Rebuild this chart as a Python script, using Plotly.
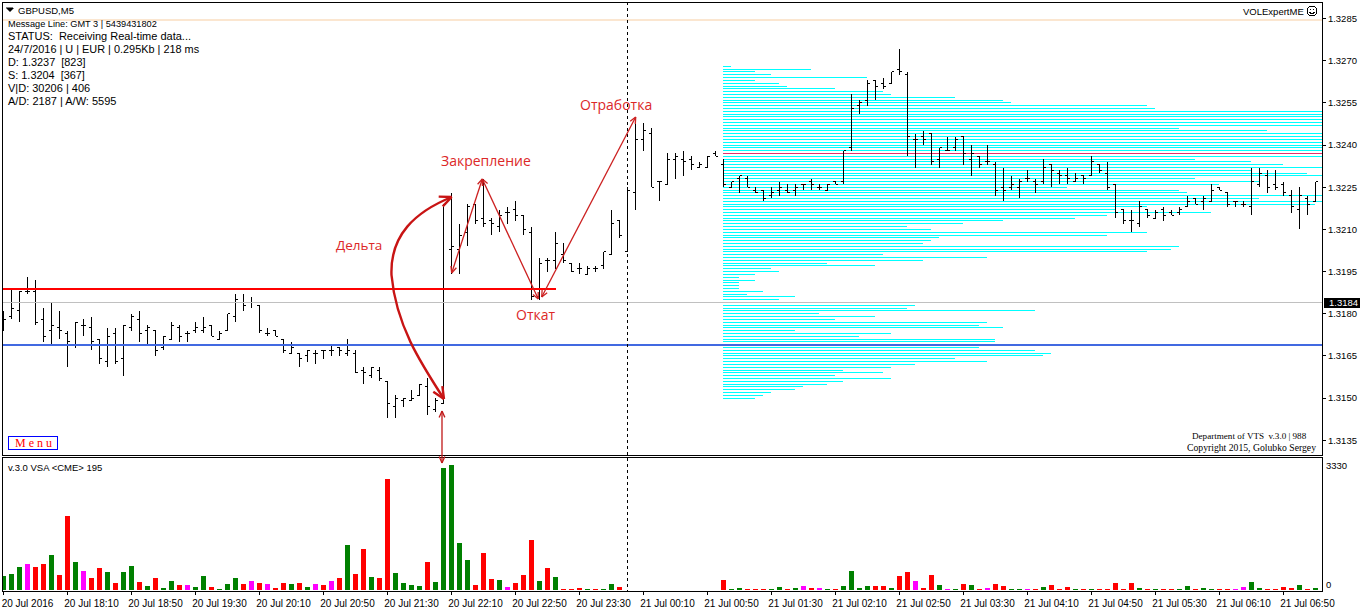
import math
import plotly.graph_objects as go

W, H = 1362, 612

# ---------- data ----------
opens = [3179,3179,3181,3188,3188,3178,3174,3175,3173,3169,
3176,3175,3171,3163,3173,3164,3175,3178,3174,3174,
3168,3171,3175,3173,3174,3174,3176,3171,3174,3179,
3184,3184,3183,3173,3174,3171,3166,3166,3165,3166,
3167,3167,3168,3166,3166,3160,3158,3160,3156,3147,
3149,3149,3151,3154,3146,3148,3203,3203,3209,3219,
3214,3213,3211,3216,3217,3215,3209,3186,3199,3199,
3201,3198,3196,3194,3196,3197,3201,3213,3202,3223,
3242,3244,3227,3226,3235,3235,3235,3232,3232,3237,
3233,3225,3228,3228,3224,3224,3222,3224,3224,3224,
3226,3227,3225,3224,3227,3227,3239,3254,3256,3263,
3262,3262,3267,3265,3242,3243,3244,3235,3238,3239,
3243,3235,3236,3234,3233,3225,3225,3225,3228,3227,
3227,3233,3230,3229,3227,3229,3229,3233,3230,3226,
3217,3213,3212,3217,3214,3217,3216,3216,3218,3221,
3220,3220,3225,3223,3220,3219,3218,3226,3229,3226,
3226,3222,3217,3221,3220]
highs = [3181,3189,3188,3193,3192,3182,3184,3181,3174,3177,
3178,3179,3171,3175,3175,3176,3180,3181,3176,3174,
3172,3177,3176,3174,3177,3179,3176,3174,3180,3187,
3187,3186,3183,3175,3174,3171,3170,3166,3167,3167,
3167,3169,3168,3171,3167,3161,3161,3161,3156,3151,
3150,3153,3155,3157,3150,3219,3223,3212,3219,3219,
3228,3214,3217,3218,3220,3215,3211,3200,3200,3209,
3205,3198,3198,3197,3197,3202,3217,3213,3225,3250,
3248,3246,3227,3237,3237,3238,3236,3234,3236,3238,
3235,3227,3229,3229,3225,3224,3225,3227,3226,3226,
3226,3228,3226,3226,3227,3238,3258,3256,3263,3263,
3264,3266,3274,3266,3244,3245,3244,3239,3243,3243,
3243,3240,3236,3240,3234,3232,3229,3228,3231,3228,
3235,3233,3231,3232,3230,3229,3236,3233,3234,3226,
3217,3217,3220,3217,3217,3218,3217,3218,3222,3221,
3222,3226,3225,3223,3220,3220,3232,3232,3231,3231,
3227,3224,3225,3222,3227]
lows = [3174,3178,3177,3187,3176,3170,3169,3171,3161,3168,
3172,3167,3162,3161,3162,3158,3174,3170,3169,3165,
3167,3171,3170,3170,3173,3173,3172,3171,3174,3177,
3181,3182,3173,3172,3172,3166,3166,3161,3163,3162,
3164,3165,3165,3165,3159,3155,3157,3156,3143,3143,
3147,3149,3151,3144,3145,3148,3194,3194,3204,3212,
3211,3208,3209,3212,3213,3208,3185,3185,3195,3196,
3198,3195,3194,3194,3195,3196,3201,3207,3202,3217,
3238,3225,3220,3226,3228,3229,3231,3232,3232,3236,
3225,3225,3223,3225,3223,3220,3221,3222,3223,3222,
3224,3224,3224,3224,3226,3226,3238,3251,3254,3256,
3260,3262,3265,3236,3232,3240,3233,3232,3238,3238,
3233,3229,3232,3233,3222,3220,3224,3221,3227,3223,
3226,3225,3226,3226,3227,3226,3229,3230,3224,3214,
3212,3209,3211,3214,3214,3213,3215,3215,3218,3219,
3217,3220,3224,3218,3218,3218,3215,3225,3223,3224,
3222,3216,3210,3215,3220]
closes = [3178,3182,3188,3188,3177,3172,3176,3174,3170,3177,
3176,3170,3164,3172,3163,3176,3179,3173,3175,3167,
3172,3176,3172,3173,3175,3175,3172,3173,3180,3185,
3183,3184,3174,3173,3172,3167,3168,3164,3167,3166,
3167,3167,3167,3167,3159,3159,3161,3157,3148,3150,
3150,3150,3155,3147,3149,3219,3204,3208,3218,3213,
3212,3212,3215,3216,3215,3210,3186,3198,3199,3205,
3199,3195,3196,3196,3196,3202,3212,3208,3224,3242,
3245,3225,3227,3235,3236,3234,3233,3233,3236,3236,
3226,3227,3229,3225,3223,3221,3223,3225,3223,3225,
3226,3226,3225,3226,3226,3238,3253,3255,3262,3261,
3261,3266,3266,3243,3242,3242,3234,3239,3238,3242,
3237,3237,3233,3234,3224,3224,3226,3227,3228,3226,
3232,3231,3229,3228,3228,3228,3234,3231,3225,3216,
3213,3213,3218,3215,3216,3215,3215,3217,3220,3219,
3221,3224,3224,3219,3220,3219,3227,3230,3225,3225,
3223,3218,3222,3219,3227]

volumes = [373,426,613,693,613,693,932,400,1971,746,
506,320,586,480,186,480,639,213,107,320,
53,240,133,133,80,373,80,27,160,320,
160,240,186,160,53,186,160,186,80,160,
133,240,320,1199,426,1092,346,320,2957,453,
186,133,107,746,213,3250,3330,1252,799,133,
986,293,266,80,186,400,1332,240,586,346,
27,27,53,27,27,27,160,80,0,0,
0,0,0,0,0,0,0,0,0,0,
266,27,53,27,27,27,27,80,27,53,
107,53,53,27,27,107,506,53,107,107,
107,53,373,480,240,53,400,133,27,27,
160,133,27,53,160,107,27,27,27,27,
80,133,27,80,27,27,27,27,27,186,
27,186,53,27,27,27,27,27,107,27,
53,27,27,27,27,80,213,53,27,27,
80,53,133,27,53]
volume_kinds = ("gggmrrgrrg" "mrrgrggrgr" "ggrmggrggg" "rmrmrrgrgm" "rmrgrrgrrg"
                "gggrgggggr" "rrgmrrrgrg" "rrrgrggrgg" "gggggggggg" "rggrrrggrg"
                "mrmgrggggr" "rgrrmrrgmg" "rgrmrrggmr" "grrrgrgrrr" "rrgrgrrggr"
                "ggrrmmggrr" "rrgrg")

profile_levels = list(range(3268, 3149, -1))
profile_lengths = [1,11,4,6,18,4,7,8,14,20,21,29,35,36,53,54,
82,82,82,82,82,82,57,68,
82,82,82,82,82,82,82,82,82,
59,66,70,82,66,73,82,59,67,62,43,57,58,82,67,82,74,53,49,61,48,44,
35,30,23,26,53,48,27,26,25,57,56,53,20,33,25,13,19,6,7,4,2,4,2,2,2,5,3,9,7,4,
24,23,39,12,19,14,33,32,35,9,21,17,34,34,34,32,39,41,40,29,33,24,21,15,20,14,21,15,13,10,9,6,5,4]
poc_level = 3237

tick_labels = ["20 Jul 2016","20 Jul 18:10","20 Jul 18:50","20 Jul 19:30","20 Jul 20:10","20 Jul 20:50",
 "20 Jul 21:30","20 Jul 22:10","20 Jul 22:50","20 Jul 23:30","21 Jul 00:10","21 Jul 00:50","21 Jul 01:30",
 "21 Jul 02:10","21 Jul 02:50","21 Jul 03:30","21 Jul 04:10","21 Jul 04:50","21 Jul 05:30","21 Jul 06:10","21 Jul 06:50"]
price_ticks = [1.3135,1.3150,1.3165,1.3180,1.3195,1.3210,1.3225,1.3240,1.3255,1.3270,1.3285]
info_lines = ["Message Line: GMT 3 | 5439431802","STATUS:  Receiving Real-time data...",
 "24/7/2016 | U | EUR | 0.295Kb | 218 ms","D: 1.3237  [823]","S: 1.3204  [367]",
 "V|D: 30206 | 406","A/D: 2187 | A/W: 5595"]
last_price, red_level, blue_level = 1.3184, 1.31888, 1.31689

# ---------- scales ----------
to_price = lambda pts: [1 + p / 10000 for p in pts]
idx = list(range(len(opens)))
STEP = 8.0
X0 = 3.5
L, R = 3.0, 1322.0
x_range = [(L - X0) / STEP, (R - X0) / STEP]
P_T, P_B = 3.0, 455.0
V_T, V_B = 458.0, 591.0
PX_PER_UNIT = 28119.0
p_top = 1.3135 + (440.3 - P_T) / PX_PER_UNIT
p_bot = 1.3135 + (440.3 - P_B) / PX_PER_UNIT
V_SCALE = 3330 / 125.0
v_bot = -(V_B - 590) * V_SCALE
v_top = (590 - V_T) * V_SCALE
kind_color = {"g": "#008000", "r": "#ff0000", "m": "#ff00ff"}
PROFILE_X = (723 - X0) / STEP

fig = go.Figure()
fig.add_bar(x=profile_lengths, y=to_price(profile_levels), base=PROFILE_X, orientation="h",
            width=1.0 / PX_PER_UNIT,
            marker=dict(color=["#e0306e" if l == poc_level else "#00ffff" for l in profile_levels], line_width=0),
            xaxis="x2", yaxis="y")
fig.add_trace(go.Ohlc(x=idx, open=to_price(opens), high=to_price(highs), low=to_price(lows), close=to_price(closes),
                      tickwidth=0.36, increasing=dict(line=dict(color="#000000", width=1)),
                      decreasing=dict(line=dict(color="#000000", width=1)), xaxis="x2", yaxis="y"))
fig.add_bar(x=idx, y=volumes, width=5 / STEP, marker=dict(color=[kind_color[k] for k in volume_kinds], line_width=0),
            xaxis="x", yaxis="y2")

# ---------- overlay helpers (screen pixels -> paper) ----------
px = lambda x: x / W
py = lambda y: 1 - y / H
def P(x, y):
    return f"{px(x):.5f},{py(y):.5f}"
shapes, annos = [], []
def path(d, color, width, fill=None, dash=None):
    s = dict(type="path", xref="paper", yref="paper", path=d, line=dict(color=color, width=width, dash=dash or "solid"), layer="above")
    if fill:
        s["fillcolor"] = fill
    shapes.append(s)
def head(tip, frm, size, color, width):
    ang = math.atan2(frm[1] - tip[1], frm[0] - tip[0])
    for sgn in (-1, 1):
        a = ang + sgn * 0.42
        path(f"M {P(*tip)} L {P(tip[0] + size * math.cos(a), tip[1] + size * math.sin(a))}", color, width)
def arrow(a, b, color="#cc2020", width=1.3, size=7):
    path(f"M {P(*a)} L {P(*b)}", color, width)
    head(a, b, size, color, width)
    head(b, a, size, color, width)
def text(x, y, s, size=10, color="#000000", family="Liberation Sans", anchor="left", bg=None):
    annos.append(dict(xref="paper", yref="paper", x=px(x), y=py(y), text=s, showarrow=False, xanchor=anchor, yanchor="middle",
                      font=dict(size=size, color=color, family=family), borderpad=0, borderwidth=0, bgcolor=bg))
def hline(price, color, width, x1=1.0):
    shapes.append(dict(type="line", xref="paper", yref="y", x0=px(L), x1=x1, y0=price, y1=price, line=dict(color=color, width=width), layer="above"))

# peach separator and level lines
path(f"M {P(3,20)} L {P(R,20)}", "#fbe6d0", 2)
hline(last_price, "#c0c0c0", 1, px(R))
hline(red_level, "#ff0000", 2, px(556))
hline(blue_level, "#4169e1", 2, px(R))
# dashed cursor line at bar 78
path(f"M {P(X0 + 78 * STEP, 2)} L {P(X0 + 78 * STEP, 591)}", "#000000", 1, dash="3px,3px")

# hand-drawn arrows
arrow((451.7, 273), (482.3, 179))
arrow((482.3, 179), (538.3, 299))
arrow((541.7, 297), (635.7, 117))
arrow((442, 411), (442, 463), color="#c01818")
curve = "#c81414"
path(f"M {P(444,399)} C {P(420,362)} {P(396,325)} {P(391.5,275)} C {P(390,235)} {P(415,212)} {P(451.7,197)}", curve, 2.4)
head((444, 399), (425, 368), 13, curve, 2.4)
head((451.7, 197), (425, 208), 13, curve, 2.4)

# chart texts
ann_red = "#dc2828"
text(359, 245, "Дельта", 13.5, ann_red, "Open Sans", "center")
text(486, 161, "Закрепление", 14, ann_red, "Open Sans", "center")
text(535, 314, "Откат", 14, ann_red, "Open Sans", "center")
text(616, 104, "Отработка", 14, ann_red, "Open Sans", "center")

# header
path(f"M {P(6.5,8)} L {P(13.5,8)} L {P(10,12)} Z", "#000000", 0.5, fill="#000000")
text(18, 10, "GBPUSD,M5", 9.5)
for y, s, size in zip([24, 36, 49, 62, 75, 88, 101], info_lines, [9.2, 11, 10.9, 10.9, 10.9, 11, 11]):
    text(8, y, s, size)
text(1304, 11, "VOLExpertME", 9.5, anchor="right")
shapes.append(dict(type="circle", xref="paper", yref="paper", x0=px(1307), x1=px(1317), y0=py(16), y1=py(6), line=dict(color="#000000", width=1), layer="above"))
path(f"M {P(1309.5,12)} Q {P(1312,15)} {P(1314.5,12)}", "#000000", 1)
path(f"M {P(1310,9)} L {P(1311,9)} M {P(1313,9)} L {P(1314,9)}", "#000000", 1)
text(1307, 436, "Department of VTS  v.3.0 | 988", 9.1, family="Liberation Serif", anchor="right")
text(1316, 448, "Copyright 2015, Golubko Sergey", 9.7, family="Liberation Serif", anchor="right")
shapes.append(dict(type="rect", xref="paper", yref="paper", x0=px(8.5), x1=px(57.5), y0=py(449.5), y1=py(436.5), line=dict(color="#0000ff", width=1), layer="above"))
text(33, 443, "M e n u", 12, "#ff0000", "Liberation Serif", "center")
text(8, 467, "v.3.0 VSA &lt;CME&gt; 195", 9.5)
text(1326, 465, "3330", 9.5)
text(1326, 584, "0", 9.5)
shapes.append(dict(type="rect", xref="paper", yref="paper", x0=px(1324), x1=px(1360), y0=py(308), y1=py(297.5), line=dict(width=0), fillcolor="#000000", layer="above"))
text(1329, 302.8, f"{last_price:.4f}", 9.5, "#ffffff")

axis_common = dict(showgrid=False, zeroline=False, showline=True, linecolor="#000000", linewidth=1, mirror=True)
fig.update_layout(
    width=W, height=H, autosize=False, margin=dict(l=0, r=0, t=0, b=0, pad=0, autoexpand=False),
    paper_bgcolor="#ffffff", plot_bgcolor="#ffffff", showlegend=False, barmode="overlay", bargap=0,
    dragmode=False, hovermode=False,
    font=dict(family="Liberation Sans", size=10, color="#000000"),
    xaxis=dict(domain=[L / W, R / W], range=x_range, anchor="y2", tickmode="array", tickvals=idx[::8], ticktext=tick_labels,
               ticks="outside", ticklen=3, tickcolor="#000000", tickangle=0, tickfont=dict(size=10), ticklabelshift=24,
               **axis_common),
    xaxis2=dict(domain=[L / W, R / W], range=x_range, anchor="y", matches="x", showticklabels=False, rangeslider=dict(visible=False), **axis_common),
    yaxis=dict(domain=[1 - P_B / H, 1 - P_T / H], range=[p_bot, p_top], anchor="x2", side="right", tickmode="array", tickvals=price_ticks,
               tickformat=".4f", ticks="outside", ticklen=3, tickcolor="#000000", tickfont=dict(size=9.5), **axis_common),
    yaxis2=dict(domain=[1 - V_B / H, 1 - V_T / H], range=[v_bot, v_top], anchor="x", side="right", showticklabels=False, ticks="", **axis_common),
    shapes=shapes, annotations=annos,
)

post = """
document.body.style.margin='0';
document.querySelectorAll('.ohlc path, .ohlclayer path').forEach(function(p){p.style.shapeRendering='crispEdges';});
document.querySelectorAll('.shapelayer path').forEach(function(p){var s=p.style.stroke; if(s.indexOf('0, 0, 0')>=0||s.indexOf('65, 105')>=0||s.indexOf('192, 192')>=0||s.indexOf('251, 230')>=0||s.indexOf('255, 0, 0')>=0||s.indexOf('0, 0, 255')>=0){p.style.shapeRendering='crispEdges';}});
"""
fig.write_html("out.html", config=dict(displayModeBar=False, staticPlot=True), post_script=post)
